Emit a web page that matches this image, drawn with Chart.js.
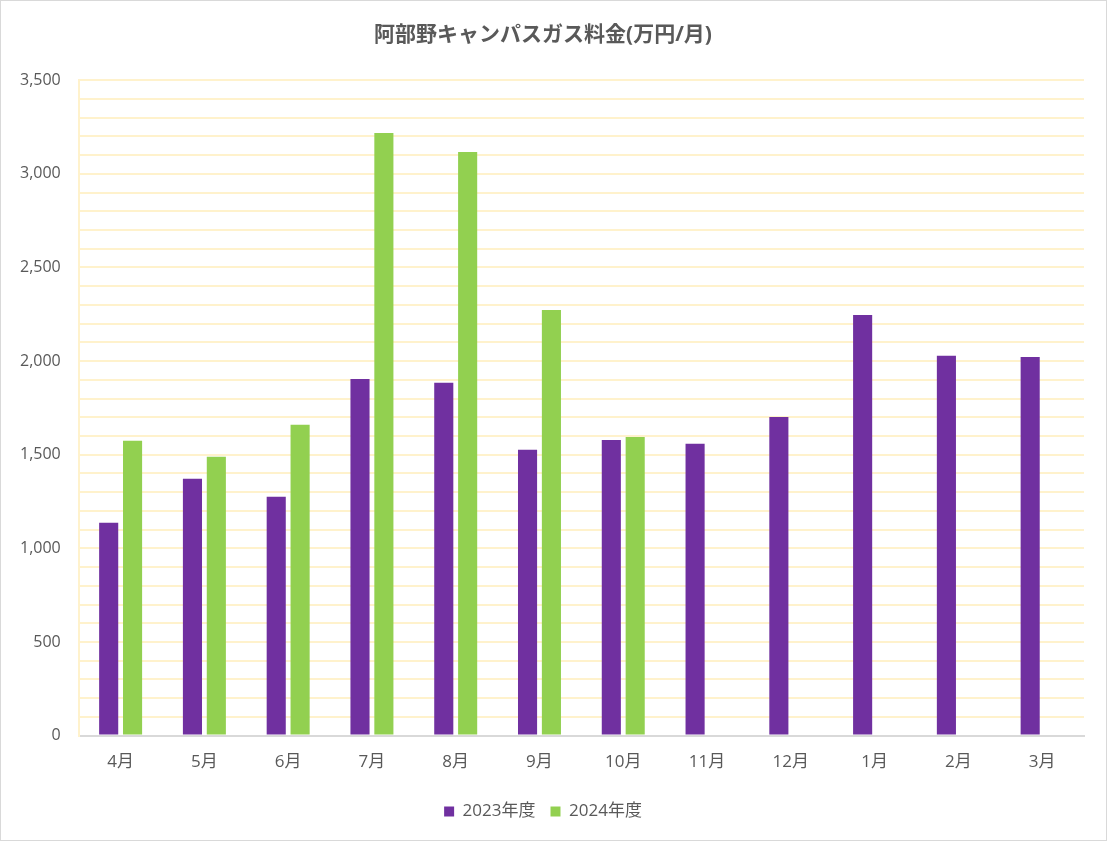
<!DOCTYPE html>
<html>
<head>
<meta charset="utf-8">
<script src="https://cdn.jsdelivr.net/npm/chart.js@4"></script>
<style>
  html, body { margin: 0; padding: 0; background: #fff; }
  #wrap { width: 1107px; height: 841px; box-sizing: border-box; border: 1px solid #d9d9d9; }
</style>
</head>
<body>
<div id="wrap"><canvas id="myChart" width="1105" height="839"></canvas></div>
<script>
const months = ['4月', '5月', '6月', '7月', '8月', '9月', '10月', '11月', '12月', '1月', '2月', '3月'];
const fy2023 = [1137, 1371, 1275, 1905, 1884, 1526, 1579, 1558, 1702, 2246, 2028, 2022];
const fy2024 = [1574, 1489, 1660, 3218, 3116, 2273, 1595, null, null, null, null, null];

const font = '"Open Sans", "Noto Sans CJK JP", sans-serif';
const textGray = '#595959';

new Chart(document.getElementById('myChart').getContext('2d'), {
  type: 'bar',
  data: {
    labels: months,
    datasets: [
      {label: '2023年度', data: fy2023, backgroundColor: '#7030a0'},
      {label: '2024年度', data: fy2024, backgroundColor: '#92d050'}
    ]
  },
  options: {
    responsive: false,
    animation: false,
    datasets: {bar: {categoryPercentage: 0.57, barPercentage: 0.8}},
    layout: {padding: {left: 1, right: 22, top: 9, bottom: 10}},
    plugins: {
      title: {
        display: true,
        text: '阿部野キャンパスガス料金(万円/月)',
        color: textGray,
        font: {family: font, size: 21, weight: 'bold'},
        padding: {top: 12, bottom: 33}
      },
      legend: {
        position: 'bottom',
        labels: {color: textGray, font: {family: font, size: 17}, boxWidth: 10, boxHeight: 10, padding: 15}
      },
      tooltip: {enabled: false}
    },
    scales: {
      x: {
        grid: {display: false, drawTicks: false},
        border: {color: '#d9d9d9', width: 2},
        ticks: {color: textGray, font: {family: font, size: 17}, padding: 16}
      },
      y: {
        min: 0,
        max: 3500,
        grid: {color: '#fff2cc', lineWidth: 2, drawTicks: false},
        border: {color: '#fff2cc', width: 2},
        ticks: {
          stepSize: 100,
          autoSkip: false,
          color: textGray,
          font: {family: font, size: 16},
          padding: 18,
          callback: v => v % 500 === 0 ? v.toLocaleString('en-US') : ''
        }
      }
    }
  }
});
</script>
</body>
</html>
